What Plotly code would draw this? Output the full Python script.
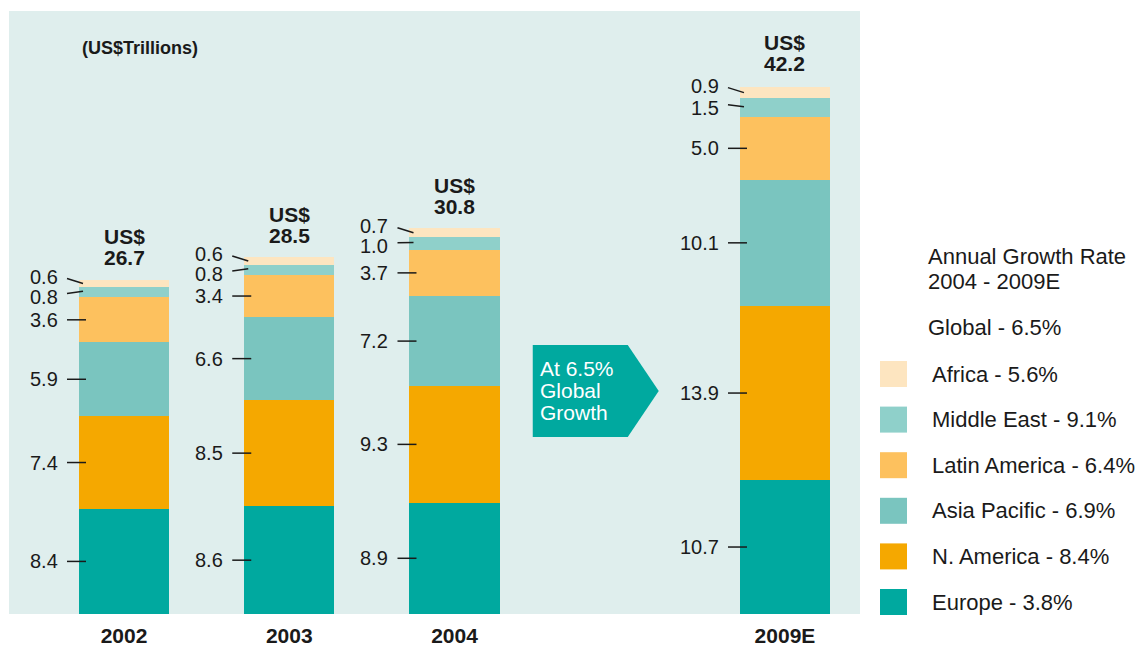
import plotly.graph_objects as go

# ---------------- data ----------------
years = ["2002", "2003", "2004", "2009E"]
regions = ["Europe", "N. America", "Asia Pacific", "Latin America", "Middle East", "Africa"]
europe = [8.4, 8.6, 8.9, 10.7]
n_america = [7.4, 8.5, 9.3, 13.9]
asia_pacific = [5.9, 6.6, 7.2, 10.1]
latin_america = [3.6, 3.4, 3.7, 5.0]
middle_east = [0.8, 0.8, 1.0, 1.5]
africa = [0.6, 0.6, 0.7, 0.9]
totals = [26.7, 28.5, 30.8, 42.2]
growth_rates = [3.8, 8.4, 6.9, 6.4, 9.1, 5.6]
global_growth = 6.5

series = [europe, n_america, asia_pacific, latin_america, middle_east, africa]
colors = ["#00A99F", "#F5A800", "#7AC5BF", "#FDC15E", "#8FD0CA", "#FDE5C0"]

# ---------------- layout geometry ----------------
OFF = 8  # page body margin
W, H = 1146 - OFF, 646 - OFF
L, R, T, B = 9 - OFF, 860 - OFF, 11 - OFF, 614 - OFF
Y_MAX = 48.17
PX_PER_UNIT = (B - T) / Y_MAX
gap_cat = " "
cat_order = ["2002", "2003", "2004", gap_cat, "2009E"]
FONT = "Liberation Sans, Arial, sans-serif"
INK = "#1a1a1a"


def px_x(px):
    return (px - OFF - L) / (R - L)


def px_y(py):
    return (B - (py - OFF)) / (B - T)


fig = go.Figure()
for name, vals, col in zip(regions, series, colors):
    fig.add_trace(go.Bar(x=years, y=vals, name=name, marker=dict(color=col, line=dict(width=0)),
                         width=0.545, showlegend=False, hoverinfo="x+y+name"))

annotations = []
shapes = []
half_bar_px = 45


def add_label(xi, mid, text, tshift, ly0, ly1, inner):
    annotations.append(dict(x=xi, y=mid, xref="x", yref="y", text=text, showarrow=False,
                            xanchor="right", yanchor="middle", xshift=-half_bar_px - 19, yshift=tshift,
                            font=dict(family=FONT, size=20, color=INK)))
    shapes.append(dict(type="line", xref="x", yref="y", xsizemode="pixel", ysizemode="pixel",
                       xanchor=xi, yanchor=mid, x0=-half_bar_px - 12, x1=-half_bar_px + inner,
                       y0=ly0, y1=ly1, line=dict(color=INK, width=1.5)))


for i, yr in enumerate(years):
    xi = cat_order.index(yr)
    cum = 0.0
    mids = []
    for vals in series:
        v = vals[i]
        mids.append(cum + v / 2)
        cum += v
    # main segments: horizontal leader lines
    for k in range(4):
        add_label(xi, mids[k], f"{series[k][i]:.1f}", 0, 0, 0, 7)
    # Africa (top): label lifted, slanted leader
    af_shift = 7
    add_label(xi, mids[5], f"{africa[i]:.1f}", af_shift, 5, 0, 4)
    # Middle East: keep at least 20 px below the Africa label
    af_label_px = -(mids[5] * PX_PER_UNIT) - af_shift   # pixel position (down = +)
    me_mid_px = -(mids[4] * PX_PER_UNIT)
    me_label_px = max(me_mid_px, af_label_px + 20)
    me_shift = -(me_label_px - me_mid_px)
    add_label(xi, mids[4], f"{middle_east[i]:.1f}", me_shift, me_shift + 3, 1, 4)

    # total labels
    annotations.append(dict(x=xi, y=totals[i], xref="x", yref="y", text=f"<b>{totals[i]:.1f}</b>",
                            showarrow=False, xanchor="center", yanchor="middle", yshift=22,
                            font=dict(family=FONT, size=21, color=INK)))
    annotations.append(dict(x=xi, y=totals[i], xref="x", yref="y", text="<b>US$</b>",
                            showarrow=False, xanchor="center", yanchor="middle", yshift=43,
                            font=dict(family=FONT, size=21, color=INK)))

# units label
annotations.append(dict(x=px_x(80), y=px_y(48), xref="paper", yref="paper", text="<b>(US$Trillions)</b>",
                        showarrow=False, xanchor="left", yanchor="middle",
                        font=dict(family=FONT, size=18, color=INK)))

# growth arrow
ay = px_y(391)
gx = cat_order.index(gap_cat)
shapes.append(dict(type="path", xref="x", yref="paper", xsizemode="pixel", ysizemode="pixel",
                   xanchor=gx, yanchor=ay,
                   path="M -87 46 L 8 46 L 39 0 L 8 -46 L -87 -46 Z",
                   fillcolor="#00A99F", line=dict(width=0), layer="above"))
arrow_lines = [f"At {global_growth}%", "Global", "Growth"]
for j, txt in enumerate(arrow_lines):
    annotations.append(dict(x=gx, y=ay, xref="x", yref="paper",
                            text=txt, showarrow=False,
                            xanchor="left", yanchor="middle", align="left",
                            xshift=-82, yshift=23 - 22 * j,
                            font=dict(family=FONT, size=21, color="white")))

# custom legend
for txt, py in [("Annual Growth Rate", 256), ("2004 - 2009E", 281), (f"Global - {global_growth}%", 327)]:
    annotations.append(dict(x=px_x(926), y=px_y(py), xref="paper", yref="paper",
                            text=txt, showarrow=False, xanchor="left", yanchor="middle",
                            font=dict(family=FONT, size=22, color=INK)))
row_y0, row_step = 374, 45.6
for j, k in enumerate(range(len(regions) - 1, -1, -1)):
    cy = row_y0 + j * row_step
    shapes.append(dict(type="rect", xref="paper", yref="paper",
                       x0=px_x(880), x1=px_x(907), y0=px_y(cy - 13), y1=px_y(cy + 13),
                       fillcolor=colors[k], line=dict(width=0)))
    annotations.append(dict(x=px_x(930), y=px_y(cy), xref="paper", yref="paper",
                            text=f"{regions[k]} - {growth_rates[k]}%", showarrow=False,
                            xanchor="left", yanchor="middle",
                            font=dict(family=FONT, size=22, color=INK)))

fig.update_layout(
    width=W, height=H, autosize=False,
    margin=dict(l=L, r=W - R, t=T, b=H - B, pad=0, autoexpand=False),
    paper_bgcolor="white", plot_bgcolor="#DFEEED",
    barmode="stack", bargap=0,
    font=dict(family=FONT, color=INK),
    xaxis=dict(type="category", categoryorder="array", categoryarray=cat_order,
               range=[-0.696, 4.454], showgrid=False, zeroline=False, showline=False,
               ticks="", ticklabelstandoff=7, automargin=False,
               tickfont=dict(family=FONT, size=21, color=INK, weight="bold"),
               fixedrange=True),
    yaxis=dict(range=[0, Y_MAX], visible=False, showgrid=False, zeroline=False, fixedrange=True,
               automargin=False),
    annotations=annotations, shapes=shapes, showlegend=False,
)

fig.write_html("out.html")
